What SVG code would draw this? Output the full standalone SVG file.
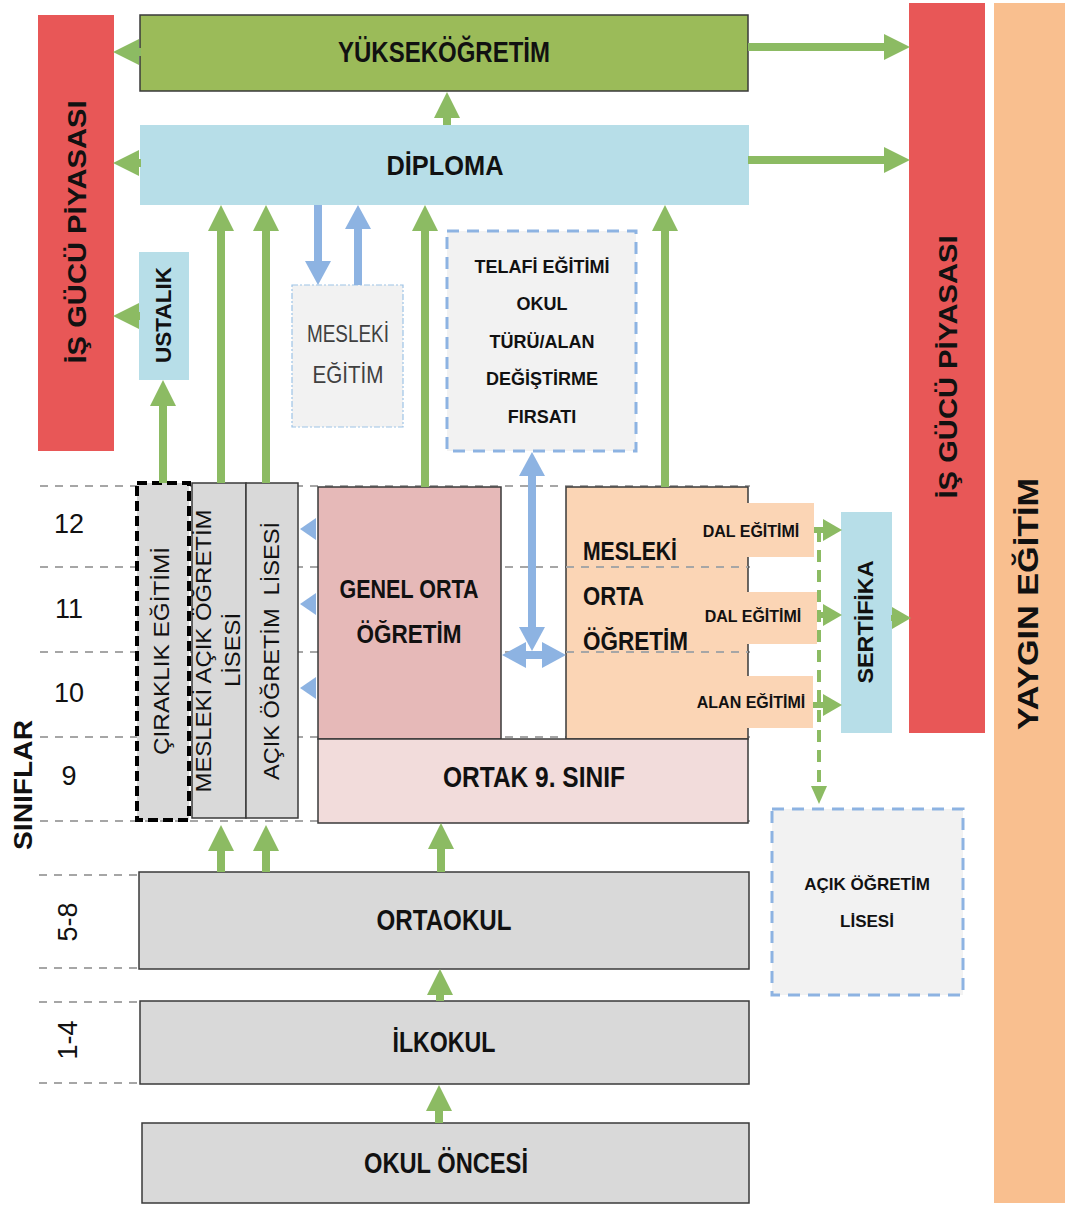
<svg xmlns="http://www.w3.org/2000/svg" width="1065" height="1205" viewBox="0 0 1065 1205">
<style>
text{font-family:"Liberation Sans",Arial,sans-serif;fill:#111}
.b{font-weight:bold}
.m{text-anchor:middle}
.grid{stroke:#A6A6A6;stroke-width:2;stroke-dasharray:8 7;fill:none}
.box{stroke:#3a3a3a;stroke-width:1.5}
.ga{stroke:#8CBB63;stroke-width:8;fill:none;marker-end:url(#gh)}
.gs{stroke:#8CBB63;stroke-width:6;fill:none;marker-end:url(#gsh)}
.bl{stroke:#8DB3E2;stroke-width:8;fill:none;marker-end:url(#bh)}
</style>
<defs>
<marker id="gh" markerUnits="userSpaceOnUse" markerWidth="26" markerHeight="28" refX="0" refY="14" orient="auto"><path d="M0,1 L26,14 L0,27 z" fill="#8CBB63"/></marker>
<marker id="gsh" markerUnits="userSpaceOnUse" markerWidth="19" markerHeight="22" refX="0" refY="11" orient="auto"><path d="M0,0 L19,11 L0,22 z" fill="#8CBB63"/></marker>
<marker id="gdh" markerUnits="userSpaceOnUse" markerWidth="18" markerHeight="18" refX="0" refY="9" orient="auto"><path d="M0,1 L18,9 L0,17 z" fill="#8CBB63"/></marker>
<marker id="bh" markerUnits="userSpaceOnUse" markerWidth="24" markerHeight="28" refX="0" refY="14" orient="auto-start-reverse"><path d="M0,1 L24,14 L0,27 z" fill="#8DB3E2"/></marker>
</defs>
<rect width="1065" height="1205" fill="#fff"/>

<g id="grade-lines">
<path class="grid" d="M40,486 H750 M40,567 H750 M40,652 H750 M40,737 H750 M40,821 H750 M39,875 H139 M39,968 H139 M39,1002 H139 M39,1083 H139"/>
</g>

<g id="is-gucu-sol">
<rect x="38" y="15" width="76" height="436" fill="#E85757"/>
<text class="b m" font-size="26" textLength="263" lengthAdjust="spacingAndGlyphs" transform="translate(86,232) rotate(-90)">İŞ GÜCÜ PİYASASI</text>
</g>
<g id="is-gucu-sag">
<rect x="909" y="3" width="76" height="730" fill="#E85757"/>
<text class="b m" font-size="26" textLength="263" lengthAdjust="spacingAndGlyphs" transform="translate(957,367) rotate(-90)">İŞ GÜCÜ PİYASASI</text>
</g>
<g id="yaygin-egitim">
<rect x="994" y="3" width="71" height="1200" fill="#F9BF8F"/>
<text class="b m" font-size="29" textLength="252" lengthAdjust="spacingAndGlyphs" transform="translate(1038,604) rotate(-90)">YAYGIN EĞİTİM</text>
</g>

<g id="yuksekogretim">
<rect class="box" x="140" y="15" width="608" height="76" fill="#9BBB59"/>
<text class="b m" x="444" y="62" font-size="29" textLength="212" lengthAdjust="spacingAndGlyphs">YÜKSEKÖĞRETİM</text>
</g>
<g id="diploma">
<rect x="140" y="125" width="609" height="80" fill="#B7DEE8"/>
<text class="b m" x="445" y="175" font-size="28" textLength="117" lengthAdjust="spacingAndGlyphs">DİPLOMA</text>
</g>
<g id="ustalik">
<rect x="139" y="252" width="50" height="128" fill="#B7DEE8"/>
<text class="b m" font-size="22" textLength="96" lengthAdjust="spacingAndGlyphs" transform="translate(171,315) rotate(-90)">USTALIK</text>
</g>
<g id="mesleki-egitim">
<rect x="292" y="285" width="111" height="142" fill="#F2F2F2" stroke="#9DC3E6" stroke-width="1.2" stroke-dasharray="6 2 2 2"/>
<text class="m" x="348" y="342" font-size="24" fill="#404040" style="fill:#404040" textLength="82" lengthAdjust="spacingAndGlyphs">MESLEKİ</text>
<text class="m" x="348" y="383" font-size="24" style="fill:#404040" textLength="71" lengthAdjust="spacingAndGlyphs">EĞİTİM</text>
</g>
<g id="telafi">
<rect x="447" y="231" width="189" height="220" fill="#F2F2F2" stroke="#8DB3E2" stroke-width="3" stroke-dasharray="12 8"/>
<text class="b m" x="542" y="273" font-size="18">TELAFİ EĞİTİMİ</text>
<text class="b m" x="542" y="310" font-size="18">OKUL</text>
<text class="b m" x="542" y="348" font-size="18">TÜRÜ/ALAN</text>
<text class="b m" x="542" y="385" font-size="18">DEĞİŞTİRME</text>
<text class="b m" x="542" y="423" font-size="18">FIRSATI</text>
</g>

<g id="ciraklik">
<rect x="137" y="483" width="52" height="337" fill="#D9D9D9" stroke="#000" stroke-width="4" stroke-dasharray="10 5"/>
<text class="m" font-size="22" textLength="208" lengthAdjust="spacingAndGlyphs" transform="translate(169,651) rotate(-90)">ÇIRAKLIK EĞİTİMİ</text>
</g>
<g id="mesleki-acik">
<rect class="box" x="192" y="483" width="54" height="335" fill="#D9D9D9"/>
<text class="m" font-size="22" textLength="283" lengthAdjust="spacingAndGlyphs" transform="translate(211,651) rotate(-90)">MESLEKİ AÇIK ÖĞRETİM</text>
<text class="m" font-size="22" textLength="74" lengthAdjust="spacingAndGlyphs" transform="translate(240,650) rotate(-90)">LİSESİ</text>
</g>
<g id="acik-ogretim-lisesi">
<rect class="box" x="246" y="483" width="52" height="335" fill="#D9D9D9"/>
<text class="m" font-size="22" xml:space="preserve" textLength="258" lengthAdjust="spacingAndGlyphs" transform="translate(279,651) rotate(-90)">AÇIK ÖĞRETİM  LİSESİ</text>
</g>

<g id="genel-orta">
<rect class="box" x="318" y="487" width="183" height="252" fill="#E6B9B8"/>
<text class="b m" x="409" y="598" font-size="25" textLength="139" lengthAdjust="spacingAndGlyphs">GENEL ORTA</text>
<text class="b m" x="409" y="643" font-size="25" textLength="105" lengthAdjust="spacingAndGlyphs">ÖĞRETİM</text>
</g>
<g id="mesleki-orta">
<rect class="box" x="566" y="487" width="182" height="252" fill="#FBD5B5"/>
<path class="grid" d="M566,567 H748 M566,652 H748"/>
<text class="b" x="583" y="560" font-size="25" textLength="94" lengthAdjust="spacingAndGlyphs">MESLEKİ</text>
<text class="b" x="583" y="605" font-size="25" textLength="61" lengthAdjust="spacingAndGlyphs">ORTA</text>
<text class="b" x="583" y="650" font-size="25" textLength="105" lengthAdjust="spacingAndGlyphs">ÖĞRETİM</text>
</g>
<g id="dal-egitimi-1">
<rect x="692" y="503" width="122" height="54" fill="#FBD5B5"/>
<text class="b m" x="751" y="537" font-size="16">DAL EĞİTİMİ</text>
</g>
<g id="dal-egitimi-2">
<rect x="692" y="592" width="125" height="52" fill="#FBD5B5"/>
<text class="b m" x="753" y="622" font-size="16">DAL EĞİTİMİ</text>
</g>
<g id="alan-egitimi">
<rect x="692" y="676" width="121" height="52" fill="#FBD5B5"/>
<text class="b m" x="751" y="708" font-size="16">ALAN EĞİTİMİ</text>
</g>
<g id="sertifika">
<rect x="841" y="512" width="51" height="221" fill="#B7DEE8"/>
<text class="b m" font-size="22" textLength="123" lengthAdjust="spacingAndGlyphs" transform="translate(873,622) rotate(-90)">SERTİFİKA</text>
</g>
<g id="ortak-9">
<rect class="box" x="318" y="739" width="430" height="84" fill="#F2DCDB"/>
<text class="b m" x="534" y="787" font-size="29" textLength="182" lengthAdjust="spacingAndGlyphs">ORTAK 9. SINIF</text>
</g>
<g id="acik-ogretim-sag">
<rect x="772" y="809" width="191" height="186" fill="#F2F2F2" stroke="#8DB3E2" stroke-width="3" stroke-dasharray="12 8"/>
<text class="b m" x="867" y="890" font-size="17">AÇIK ÖĞRETİM</text>
<text class="b m" x="867" y="927" font-size="17">LİSESİ</text>
</g>
<g id="ortaokul">
<rect class="box" x="139" y="872" width="610" height="97" fill="#D9D9D9"/>
<text class="b m" x="444" y="930" font-size="29" textLength="135" lengthAdjust="spacingAndGlyphs">ORTAOKUL</text>
</g>
<g id="ilkokul">
<rect class="box" x="140" y="1001" width="609" height="83" fill="#D9D9D9"/>
<text class="b m" x="444" y="1052" font-size="29" textLength="103" lengthAdjust="spacingAndGlyphs">İLKOKUL</text>
</g>
<g id="okul-oncesi">
<rect class="box" x="142" y="1123" width="607" height="80" fill="#D9D9D9"/>
<text class="b m" x="446" y="1173" font-size="29" textLength="164" lengthAdjust="spacingAndGlyphs">OKUL ÖNCESİ</text>
</g>

<g id="labels">
<text class="m" x="69" y="533" font-size="27">12</text>
<text class="m" x="69" y="618" font-size="27">11</text>
<text class="m" x="69" y="702" font-size="27">10</text>
<text class="m" x="69" y="785" font-size="27">9</text>
<text class="m" font-size="27" transform="translate(77,922) rotate(-90)">5-8</text>
<text class="m" font-size="27" transform="translate(77,1040) rotate(-90)">1-4</text>
<text class="b m" font-size="26" textLength="130" lengthAdjust="spacingAndGlyphs" transform="translate(32,785) rotate(-90)">SINIFLAR</text>
</g>

<g id="connectors">
<path class="ga" d="M141,52 H139"/>
<path class="ga" d="M141,163 H139"/>
<path class="ga" d="M748,47 H884"/>
<path class="ga" d="M748,160 H884"/>
<path class="ga" d="M447,125 V118"/>
<path class="ga" d="M140,316 H139"/>
<path class="ga" d="M163,483 V406"/>
<path class="ga" d="M221,483 V231"/>
<path class="ga" d="M266,483 V231"/>
<path class="ga" d="M425,487 V231"/>
<path class="ga" d="M665,487 V231"/>
<path class="bl" d="M318,205 V261"/>
<path class="bl" d="M358,285 V229"/>
<path class="bl" d="M532,476 V627" style="marker-start:url(#bh)"/>
<path class="bl" d="M526,655 H542" style="marker-start:url(#bh)"/>
<polygon points="316,518 300,529 316,540" fill="#8DB3E2"/>
<polygon points="316,593 300,604 316,615" fill="#8DB3E2"/>
<polygon points="316,677 300,688 316,699" fill="#8DB3E2"/>
<path class="gs" d="M814,530 H823"/>
<path class="gs" d="M817,615 H823"/>
<path class="gs" d="M813,705 H823"/>
<path d="M819,530 V786" stroke="#8CBB63" stroke-width="4" stroke-dasharray="12 8" fill="none" marker-end="url(#gdh)"/>
<path class="gs" d="M891,618 H892"/>
<path class="ga" d="M221,872 V851"/>
<path class="ga" d="M266,872 V851"/>
<path class="ga" d="M441,872 V849"/>
<path class="ga" d="M440,1001 V995"/>
<path class="ga" d="M439,1123 V1111"/>
</g>
</svg>
